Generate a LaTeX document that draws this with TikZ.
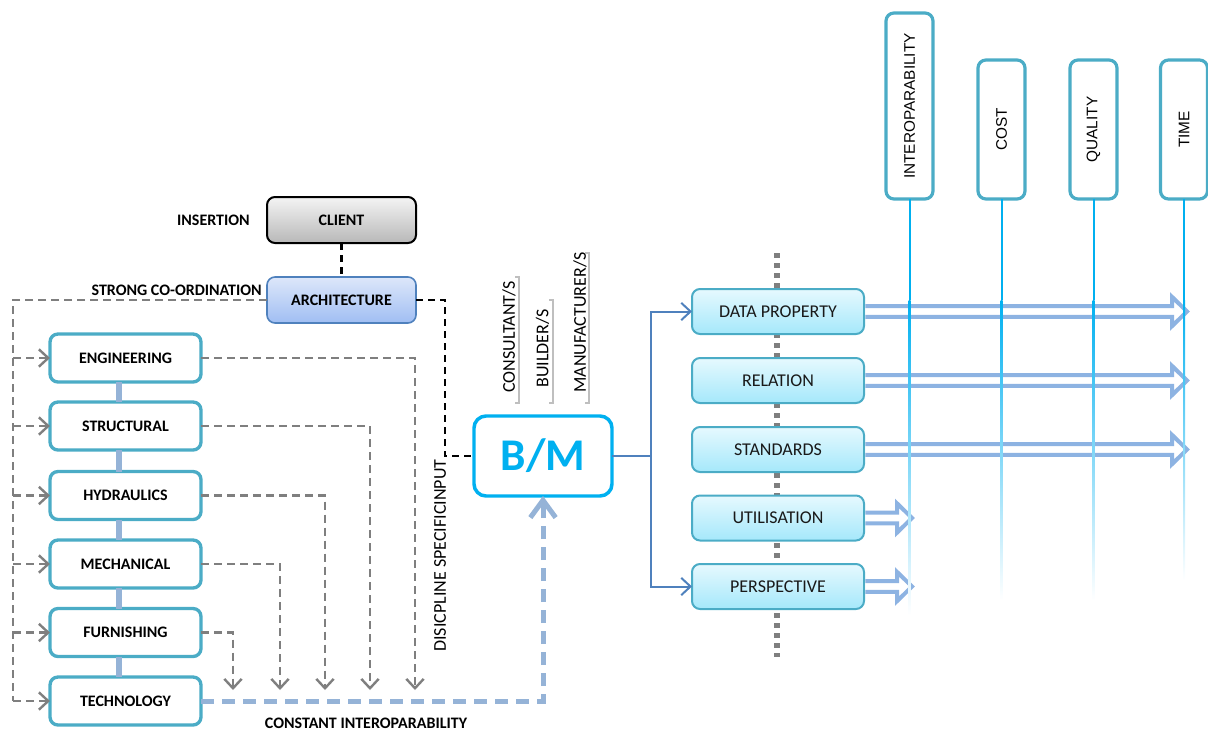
\documentclass[tikz,border=0pt]{standalone}
\usepackage{fontspec}
\setmainfont{Carlito}
\newfontfamily\arialf{Liberation Sans}
\usetikzlibrary{arrows.meta,calc}
\definecolor{tealb}{HTML}{4BACC6}
\definecolor{cyanb}{HTML}{00B0F0}
\definecolor{lblue}{HTML}{95B3D7}
\definecolor{arrblue}{HTML}{8DB3E2}
\definecolor{dblue}{HTML}{4F81BD}
\definecolor{grayd}{HTML}{7F7F7F}
\definecolor{brgray}{HTML}{BFBFBF}
\definecolor{rtop}{HTML}{E6F9FE}
\definecolor{rbot}{HTML}{A5E8FB}
\definecolor{ctop}{HTML}{F4F4F4}
\definecolor{cbot}{HTML}{B8B8B8}
\definecolor{atop}{HTML}{DDE7FA}
\definecolor{abot}{HTML}{A0BEF3}
\newcommand\blockarr[2]{%
 \draw[barrow] let \p1=(#1.east) in
  (\x1+1pt,\y1+4.1pt) -- ({#2*0.75pt-11.25pt},\y1+4.1pt) -- ({#2*0.75pt-11.25pt},\y1+11pt)
  -- ({#2*0.75pt},\y1) -- ({#2*0.75pt-11.25pt},\y1-11pt) -- ({#2*0.75pt-11.25pt},\y1-4.1pt)
  -- (\x1+1pt,\y1-4.1pt);}
\begin{document}
\begin{tikzpicture}[x=0.75pt,y=-0.75pt,
 leftbox/.style={draw=tealb, line width=2.5pt, rounded corners=6pt, fill=white,
   minimum width=113.25pt, minimum height=36pt, inner sep=0pt, outer sep=0pt,
   font=\bfseries\fontsize{12}{14}\selectfont},
 rightbox/.style={draw=tealb, line width=1.5pt, rounded corners=6pt, top color=rtop, bottom color=rbot,
   minimum width=129pt, minimum height=33.75pt, inner sep=0pt, outer sep=0pt,
   text=black!90, font=\fontsize{13.5}{15}\selectfont},
 topbox/.style={draw=tealb, line width=2.4pt, rounded corners=6pt, fill=white,
   minimum width=35.25pt, inner sep=0pt, outer sep=0pt, font=\arialf\fontsize{11.5}{13}\selectfont},
 lbl/.style={font=\bfseries\fontsize{12}{14}\selectfont, inner sep=0pt},
 rotlbl/.style={font=\fontsize{13.5}{15}\selectfont, inner sep=0pt, rotate=90, anchor=west},
 gdash/.style={draw=grayd, line width=1.8pt, dash pattern=on 6pt off 3.75pt},
 garr/.style={gdash, -{Straight Barb[length=7pt,width=13pt]}},
 kdash/.style={draw=black, line width=1.8pt, dash pattern=on 5.25pt off 3.75pt},
 bdash/.style={draw=lblue, line width=3.75pt, dash pattern=on 9.75pt off 6pt,
   -{Straight Barb[length=13pt,width=19pt]}},
 bmline/.style={draw=dblue, line width=1.5pt},
 bmarr/.style={bmline, -{Straight Barb[length=7pt,width=13pt]}},
 barrow/.style={draw=arrblue, line width=3pt, fill=white, line join=miter},
 vconn/.style={draw=lblue, line width=4.5pt},
 tline/.style={draw=cyanb, line width=1.5pt},
 brk/.style={draw=brgray, line width=1.2pt}
]
\useasboundingbox (0,0) rectangle (1208,733);

% gray dotted spine behind right boxes
\coordinate (dtop) at (777,253);
\coordinate (dbot) at (777,657);
\draw[draw=grayd, line width=4.5pt, dash pattern=on 3.75pt off 3.75pt] (dtop) -- (dbot);

% client and architecture
\node[draw=black, line width=1.5pt, rounded corners=6pt, top color=ctop, bottom color=cbot,
  minimum width=111.75pt, minimum height=34.5pt, inner sep=0pt, outer sep=0pt,
  font=\bfseries\fontsize{12}{14}\selectfont] (client) at (341.5,220) {CLIENT};
\node[draw=dblue, line width=1.2pt, rounded corners=6pt, top color=atop, bottom color=abot,
  minimum width=111.75pt, minimum height=34.5pt, inner sep=0pt, outer sep=0pt,
  font=\bfseries\fontsize{12}{14}\selectfont] (arch) at (341.5,300) {ARCHITECTURE};
\node[lbl, anchor=east] (ins) at (250,220) {INSERTION};
\node[lbl, anchor=east] (strong) at (262,290) {STRONG CO-ORDINATION};

% left discipline boxes
\node[leftbox] (eng) at (125.5,358) {ENGINEERING};
\node[leftbox] (str) at (125.5,426) {STRUCTURAL};
\node[leftbox] (hyd) at (125.5,495.5) {HYDRAULICS};
\node[leftbox] (mec) at (125.5,564) {MECHANICAL};
\node[leftbox] (fur) at (125.5,632.5) {FURNISHING};
\node[leftbox] (tec) at (125.5,701) {TECHNOLOGY};

\foreach \a/\b in {eng/str,str/hyd,hyd/mec,mec/fur,fur/tec}
  \draw[vconn] ([xshift=-5pt]\a.south) -- ([xshift=-5pt]\b.north);

% B/M
\node[draw=cyanb, line width=2.6pt, rounded corners=9pt, fill=white,
  minimum width=103.5pt, minimum height=60pt, inner sep=0pt, outer sep=0pt,
  text=cyanb, font=\bfseries\fontsize{34}{38}\selectfont] (bm) at (543,456) {B/M};

% rotated role labels with brackets
\node[rotlbl] (cons) at (509,393) {CONSULTANT/S};
\node[rotlbl] (build) at (542.5,388) {BUILDER/S};
\node[rotlbl] (manu) at (580,393) {MANUFACTURER/S};
\draw[brk] (515,277) -- (519,277) -- (519,403) -- (515,403);
\draw[brk] (549,300) -- (553,300) -- (553,403) -- (549,403);
\draw[brk] (585,253) -- (589,253) -- (589,403) -- (585,403);

\node[font=\fontsize{13.5}{15}\selectfont, inner sep=0pt, rotate=90, anchor=west] (disc) at (440,652) {DISICPLINE SPECIFICINPUT};
\node[lbl] (const) at (366,723) {CONSTANT INTEROPARABILITY};

% black dashed links
\draw[kdash] (client.south) -- (arch.north);
\coordinate (kc) at (445,456);
\draw[kdash] (arch.east) -| (kc) -- (bm.west);

% gray dashed feed on the left
\coordinate (lft) at (13,701);
\draw[gdash] (arch.west) -| (lft);
\foreach \n in {eng,str,hyd,mec,fur,tec}
  \draw[garr] (lft |- \n.west) -- (\n.west);

% gray dashed outputs to the bottom
\coordinate (oe) at (415,690);
\coordinate (os) at (370,690);
\coordinate (oh) at (325,690);
\coordinate (om) at (280,690);
\coordinate (of) at (233,690);
\draw[garr] (eng.east) -| (oe);
\draw[garr] (str.east) -| (os);
\draw[garr] (hyd.east) -| (oh);
\draw[garr] (mec.east) -| (om);
\draw[garr] (fur.east) -| (of);

% constant interoperability
\draw[bdash] (tec.east) -| (bm.south);

% right boxes
\node[rightbox] (dp) at (778,311.5) {DATA PROPERTY};
\node[rightbox] (rel) at (778,380.5) {RELATION};
\node[rightbox] (std) at (778,449.5) {STANDARDS};
\node[rightbox] (uti) at (778,518) {UTILISATION};
\node[rightbox] (per) at (778,586.5) {PERSPECTIVE};

\coordinate (split) at (651,456);
\draw[bmline] (bm.east) -- (split);
\draw[bmarr] (split) |- (dp.west);
\draw[bmarr] (split) |- (per.west);

% block arrows
\blockarr{dp}{1187}
\blockarr{rel}{1187}
\blockarr{std}{1187}
\blockarr{uti}{912}
\blockarr{per}{912}

% top criteria boxes
\node[topbox, minimum height=139.5pt] (iop) at (909.5,106) {\rotatebox{90}{INTEROPARABILITY}};
\node[topbox, minimum height=104.25pt] (cost) at (1001.5,129.5) {\rotatebox{90}{COST}};
\node[topbox, minimum height=104.25pt] (qual) at (1093.5,129.5) {\rotatebox{90}{QUALITY}};
\node[topbox, minimum height=104.25pt] (time) at (1184,129.5) {\rotatebox{90}{TIME}};

\foreach \n/\e in {iop/615,cost/600,qual/600,time/580}{
  \coordinate (\n m) at (\n.south |- 0,300);
  \draw[tline] (\n.south) -- (\n m);
  \shade[top color=cyanb, bottom color=white] ([xshift=-0.75pt]\n m) rectangle ([xshift=0.75pt]\n m |- 0,\e);
}
\end{tikzpicture}
\end{document}
